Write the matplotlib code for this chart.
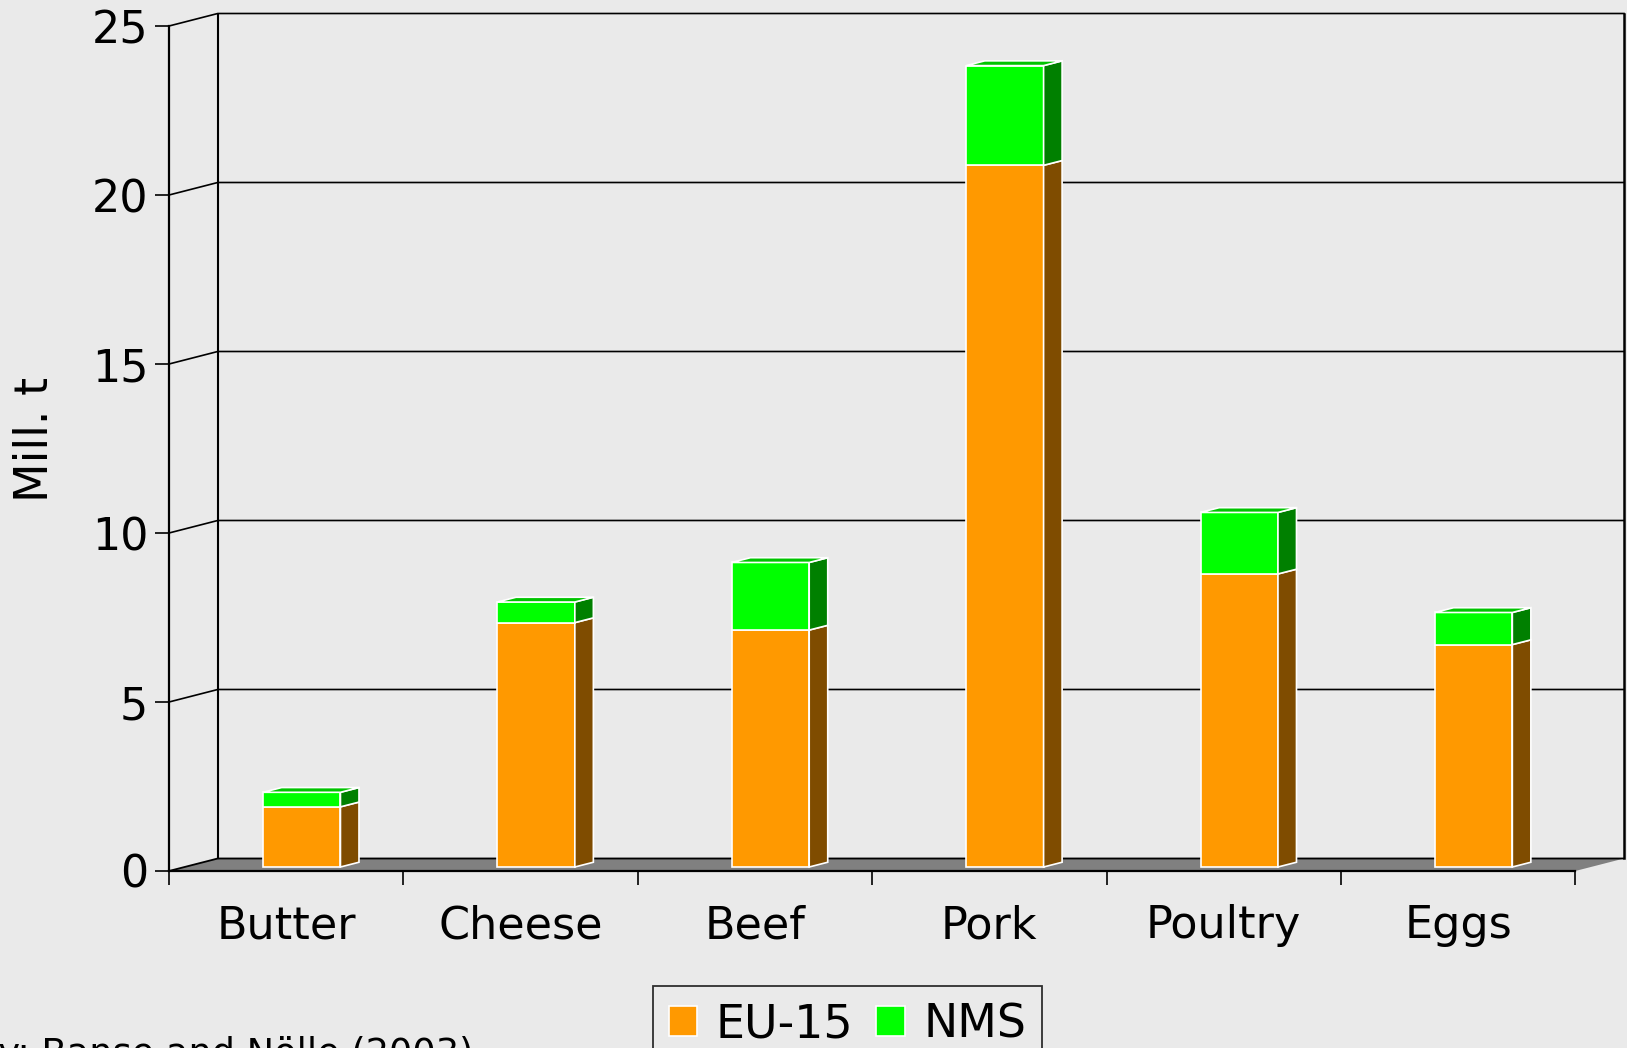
import matplotlib.pyplot as plt
from matplotlib.patches import Polygon, Patch

categories = ["Butter", "Cheese", "Beef", "Pork", "Poultry", "Eggs"]
eu15 = [1.78, 7.23, 7.01, 20.76, 8.67, 6.58]
nms = [0.43, 0.61, 2.00, 2.95, 1.82, 0.95]
yticks = [0, 5, 10, 15, 20, 25]

bg = "#eaeaea"
eu_col, eu_side = "#ff9900", "#7f4c00"
nms_col, nms_side, nms_top = "#00ff00", "#008000", "#00c400"

# oblique depth of the floor (category units / value units)
DX, DY = 0.208, 0.37
d0, d1 = 0.32, 0.70   # bar depth range as part of the floor depth
w = 0.33

fig = plt.figure(figsize=(16.27, 10.48), dpi=100, facecolor=bg)
ax = fig.add_axes([169 / 1627, 1 - 871 / 1048, (1624 - 169) / 1627, (871 - 13.5) / 1048])
ax.set_facecolor(bg)
n = len(categories)
ax.set_xlim(-0.5, n - 0.5 + DX)
ax.set_ylim(0, 25 + DY)

# floor
ax.add_patch(Polygon([(-0.5, 0), (n - 0.5, 0), (n - 0.5 + DX, DY), (-0.5 + DX, DY)],
                     closed=True, facecolor="#808080", edgecolor="none", zorder=1))
ax.plot([-0.5, -0.5 + DX, n - 0.5 + DX], [0, DY, DY], color="black", lw=1.3, zorder=2)

# back wall frame and gridlines
for v in yticks[1:]:
    ax.plot([-0.5, -0.5 + DX, n - 0.5 + DX], [v, v + DY, v + DY], color="black", lw=1.2,
            zorder=2, clip_on=False)
ax.plot([-0.5 + DX, -0.5 + DX], [DY, 25 + DY], color="black", lw=1.5, zorder=2)
ax.plot([n - 0.5 + DX, n - 0.5 + DX], [DY, 25 + DY], color="black", lw=1.8, zorder=2, clip_on=False)


def box(x, base, h, front, side, top=None):
    xl = x - w / 2 + d0 * DX
    xr = x + w / 2 + d0 * DX
    yb = base + d0 * DY
    yt = yb + h
    ddx = (d1 - d0) * DX
    ddy = (d1 - d0) * DY
    ax.bar(x + d0 * DX, h, width=w, bottom=yb, color=front, edgecolor="white", lw=1.2, zorder=3)
    ax.add_patch(Polygon([(xr, yb), (xr + ddx, yb + ddy), (xr + ddx, yt + ddy), (xr, yt)],
                         closed=True, facecolor=side, edgecolor="white", lw=1.2, zorder=3))
    if top:
        ax.add_patch(Polygon([(xl, yt), (xr, yt), (xr + ddx, yt + ddy), (xl + ddx, yt + ddy)],
                             closed=True, facecolor=top, edgecolor="white", lw=1.2, zorder=3))


for i in range(n):
    box(i, 0, eu15[i], eu_col, eu_side)
    box(i, eu15[i], nms[i], nms_col, nms_side, nms_top)

# axes
for s in ["top", "right"]:
    ax.spines[s].set_visible(False)
ax.spines["left"].set_bounds(0, 25)
ax.spines["bottom"].set_bounds(-0.5, n - 0.5)
ax.spines["left"].set_linewidth(1.6)
ax.spines["bottom"].set_linewidth(1.6)
ax.set_yticks(yticks)
ax.tick_params(axis="y", length=10, width=1.2, pad=5, labelsize=32)
ax.set_xticks([i - 0.5 for i in range(n + 1)])
ax.set_xticklabels([])
ax.set_xticks(range(n), minor=True)
ax.set_xticklabels(categories, minor=True)
ax.tick_params(axis="x", which="major", length=10, width=1.2)
ax.tick_params(axis="x", which="minor", length=0, pad=24, labelsize=32)

fig.text(36 / 1627, 1 - 439 / 1048, "Mill. t", rotation=90, fontsize=33, ha="center", va="center")
fig.text(473 / 1627, 1 - 1036 / 1048, "Calculations by: Banse and Nölle (2003)", fontsize=26.5,
         ha="right", va="top")

handles = [Patch(facecolor=eu_col, edgecolor="white", lw=1.2, label="EU-15"),
           Patch(facecolor=nms_col, edgecolor="white", lw=1.2, label="NMS")]
leg = fig.legend(handles=handles, loc="upper left", bbox_to_anchor=(653 / 1627, 1 - 986 / 1048),
                 ncol=2, fontsize=33, frameon=True, fancybox=False, borderaxespad=0,
                 handlelength=0.62, handleheight=0.62, handletextpad=0.4, columnspacing=0.5,
                 borderpad=0.35)
leg.get_frame().set_edgecolor("black")
leg.get_frame().set_facecolor(bg)
leg.get_frame().set_linewidth(1.3)

fig.savefig("out.png", dpi=100, facecolor=bg)
